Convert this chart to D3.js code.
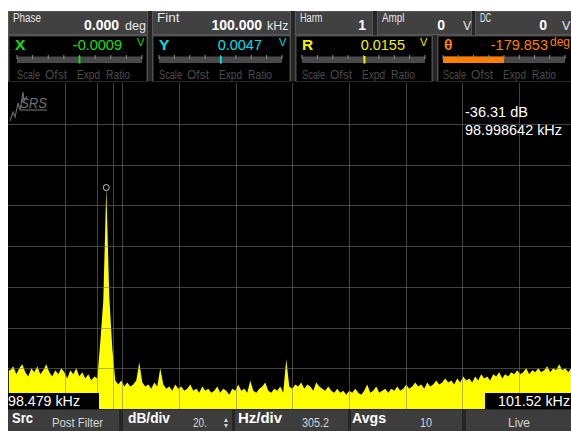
<!DOCTYPE html>
<html>
<head>
<meta charset="utf-8">
<script src="https://cdn.jsdelivr.net/npm/d3@7"></script>
<style>
  html, body { margin: 0; padding: 0; background: #fff; }
  svg { display: block; font-family: "Liberation Sans", Arial, sans-serif; }
</style>
</head>
<body>
<svg id="chart" width="571" height="431"></svg>
<script>
// ---- Settings row ----
const setLabels = ["Phase", "Fint", "Harm", "Ampl", "DC"];
const setValues = ["0.000", "100.000", "1", "0", "0"];
const setUnits  = ["deg", "kHz", "", "V", "V"];

// ---- Channel readouts ----
const chNames  = ["X", "Y", "R", "\u03b8"];
const chValues = [-0.0009, 0.0047, 0.0155, -179.853];
const chText   = ["-0.0009", "0.0047", "0.0155", "-179.853"];
const chUnits  = ["V", "V", "V", "deg"];
const chRanges = [[-1, 1], [-1, 1], [-1, 1], [-180, 180]];
const subLabels = ["Scale", "Ofst", "Expd", "Ratio"];

// ---- Spectrum ----
const spanHz = [98474, 101526];       // display span
const hzPerDiv = 305.2;
const dbPerDiv = 20;
const dbRange = [-145, 15];
const binStartHz = 98474;
const binWidthHz = 16.148;
const spectrumDb = [
  -126, -124, -128, -125, -123, -127, -129, -125, -127, -124,
  -128, -126, -123, -127, -129, -126, -128, -125, -127, -130,
  -126, -128, -125, -129, -127, -130, -128, -131, -129, -130,
  -112, -92, -36.31, -90, -115, -131, -133, -131, -134, -132,
  -134, -133, -131, -122, -132, -134, -133, -135, -132, -134,
  -125, -133, -135, -134, -136, -133, -135, -134, -136, -135,
  -133, -136, -135, -137, -134, -136, -135, -137, -136, -134,
  -137, -135, -136, -138, -135, -136, -133, -136, -135, -137,
  -131, -136, -137, -135, -134, -132, -136, -137, -135, -136,
  -134, -137, -120.5, -134, -135, -133, -134, -132, -135, -133,
  -134, -136, -132, -134, -135, -136, -134, -136, -137, -135,
  -137, -136, -138, -136, -137, -135, -137, -138, -136, -133,
  -137, -136, -134, -137, -136, -135, -137, -135, -136, -134,
  -136, -135, -133, -135, -134, -132, -134, -133, -135, -132,
  -134, -133, -131, -133, -132, -130, -132, -131, -133, -130,
  -132, -129, -131, -130, -132, -129, -131, -128, -130, -129,
  -131, -128, -129, -127, -130, -128, -129, -127, -128, -126,
  -128, -127, -125, -128, -126, -127, -125, -127, -126, -124,
  -127, -125, -126, -123, -126, -125, -127, -125, -126
];
const markerHz = 98998.642;
const markerDb = -36.31;
const markerText = ["-36.31 dB", "98.998642 kHz"];
const cursorHz = [98947, 99033];
const edgeLabels = ["98.479 kHz", "101.52 kHz"];

// ---- Bottom soft keys ----
const keyLabels = ["Src", "dB/div", "Hz/div", "Avgs", ""];
const keyValues = ["Post Filter", "20.", "305.2", "10", "Live"];

// =====================================================
const W = 571, H = 431;
const svg = d3.select("#chart");
svg.append("rect").attr("width", W).attr("height", H).attr("fill", "#fff");
svg.append("rect").attr("x", 8).attr("y", 11).attr("width", 568).attr("height", 420).attr("fill", "#000");

const plot = { l: 8.8, r: 575.7, t: 83, b: 409 };
const x = d3.scaleLinear().domain(spanHz).range([plot.l, plot.r]);
const y = d3.scaleLinear().domain(dbRange).range([plot.b, plot.t]);

const defs = svg.append("defs");
defs.append("clipPath").attr("id", "plotClip")
  .append("rect").attr("x", 8).attr("y", plot.t).attr("width", 563).attr("height", plot.b - plot.t);

// ---- Spectrum trace ----
const pts = spectrumDb.map((db, i) => ({ f: binStartHz + (i + 0.5) * binWidthHz, db }));
pts.unshift({ f: spanHz[0], db: spectrumDb[0] });
const area = d3.area()
  .x(d => x(d.f))
  .y0(y(dbRange[0]))
  .y1(d => y(d.db))
  .curve(d3.curveLinear);

const pg = svg.append("g").attr("clip-path", "url(#plotClip)");
pg.append("path").datum(pts).attr("d", area).attr("fill", "#ffff00");

// ---- Grid (drawn over the trace) ----
const vTicks = d3.range(1, 10).map(k => spanHz[0] + k * hzPerDiv);
const hTicks = d3.range(1, 8).map(k => dbRange[0] + k * dbPerDiv);
const gridColor = "rgba(120,120,120,0.55)";
pg.selectAll(".vg").data(vTicks).join("line")
  .attr("x1", d => Math.round(x(d)) + 0.5).attr("x2", d => Math.round(x(d)) + 0.5)
  .attr("y1", plot.t).attr("y2", plot.b)
  .attr("stroke", gridColor).attr("stroke-width", 1);
pg.selectAll(".hg").data(hTicks).join("line")
  .attr("x1", 8).attr("x2", 576)
  .attr("y1", d => Math.round(y(d)) + 0.5).attr("y2", d => Math.round(y(d)) + 0.5)
  .attr("stroke", gridColor).attr("stroke-width", 1);
pg.selectAll(".cur").data(cursorHz).join("line")
  .attr("x1", d => Math.round(x(d)) + 0.5).attr("x2", d => Math.round(x(d)) + 0.5)
  .attr("y1", plot.t).attr("y2", plot.b)
  .attr("stroke", gridColor).attr("stroke-width", 1);

// ---- Marker ----
pg.append("circle")
  .attr("cx", x(markerHz)).attr("cy", y(markerDb)).attr("r", 3)
  .attr("fill", "none").attr("stroke", "#c8c8c8").attr("stroke-width", 1);
svg.selectAll(".mk").data(markerText).join("text")
  .attr("x", 465).attr("y", (d, i) => 117 + i * 18)
  .attr("font-size", 14.5).attr("fill", "#fff")
  .attr("textLength", (d, i) => i === 0 ? 63 : 97).attr("lengthAdjust", "spacingAndGlyphs")
  .text(d => d);

// ---- SRS logo ----
const logo = svg.append("g").attr("fill", "none").attr("stroke", "#707070").attr("stroke-width", 1.1);
logo.append("path").attr("d", "M10,121 L13,112 L15,117 L18,103 L20,110 L23,92 L24,101 L27,96");
logo.append("line").attr("x1", 20).attr("x2", 47).attr("y1", 110).attr("y2", 110);
svg.append("text").attr("x", 20).attr("y", 107.5).attr("font-size", 15.5)
  .attr("font-style", "italic").attr("fill", "#707070")
  .attr("textLength", 27).attr("lengthAdjust", "spacingAndGlyphs").text("SRS");

// ---- Edge frequency labels ----
const edgeBoxes = [[8, 99], [485, 576]];
const edgeX = [8, 498];
edgeLabels.forEach((t, i) => {
  svg.append("rect").attr("x", edgeBoxes[i][0]).attr("y", 393)
    .attr("width", edgeBoxes[i][1] - edgeBoxes[i][0]).attr("height", 16).attr("fill", "#000");
  svg.append("text").attr("x", edgeX[i]).attr("y", 406).attr("font-size", 14).attr("fill", "#fff")
    .attr("textLength", 72).attr("lengthAdjust", "spacingAndGlyphs").text(t);
});

// ---- Header ----
svg.append("rect").attr("x", 8).attr("y", 11).attr("width", 568).attr("height", 71).attr("fill", "#262626");

const row1 = [[8, 148], [152, 291], [295, 373], [377, 472], [475, 576]];
const row1ValEnd = [119, 262, 366, 445, 547];
const row1UnitX = [125, 267, 0, 463, 562];
setLabels.forEach((lab, i) => {
  const [a, b] = row1[i];
  svg.append("rect").attr("x", a + 0.5).attr("y", 11.5).attr("width", b - a - 1).attr("height", 23)
    .attr("fill", "#414141").attr("stroke", "#595959");
  svg.append("text").attr("x", a + 5).attr("y", 22).attr("font-size", 12).attr("fill", "#e6e6e6")
    .attr("textLength", lab.length * 5.6).attr("lengthAdjust", "spacingAndGlyphs").text(lab);
  svg.append("text").attr("x", row1ValEnd[i]).attr("y", 30).attr("font-size", 14)
    .attr("font-weight", "bold").attr("text-anchor", "end").attr("fill", "#fff").text(setValues[i]);
  if (setUnits[i]) {
    svg.append("text").attr("x", row1UnitX[i]).attr("y", 30).attr("font-size", 12.5).attr("fill", "#e6e6e6")
      .text(setUnits[i]);
  }
});

const row2 = [[8, 148], [152, 291], [295, 433], [437, 576]];
const chColors = ["#10e010", "#00e0e6", "#f2f200", "#ff8000"];
const chValEnd = [122, 262, 405, 548];
const chUnitX = [137, 279, 420, 550];
const bars = [[17, 142], [159, 282], [302, 425], [443, 565]];
chNames.forEach((nm, i) => {
  const [a, b] = row2[i];
  const c = chColors[i];
  svg.append("rect").attr("x", a + 0.75).attr("y", 35.75).attr("width", b - a - 1.5).attr("height", 46)
    .attr("fill", "#000").attr("stroke", "#4e4e4e").attr("stroke-width", 1.5);
  svg.append("text").attr("x", a + 7).attr("y", 50).attr("font-size", 15.5).attr("font-weight", "bold")
    .attr("fill", c).text(nm);
  svg.append("text").attr("x", chValEnd[i]).attr("y", 50).attr("font-size", 14.5)
    .attr("text-anchor", "end").attr("fill", c).text(chText[i]);
  svg.append("text").attr("x", chUnitX[i]).attr("y", 46).attr("font-size", chUnits[i] === "deg" ? 12 : 11)
    .attr("fill", c).text(chUnits[i]);

  // meter bar
  const [b0, b1] = bars[i];
  const s = d3.scaleLinear().domain(chRanges[i]).range([b0, b1]).clamp(true);
  svg.append("rect").attr("x", b0).attr("y", 56.5).attr("width", b1 - b0).attr("height", 6.5).attr("fill", "#4a4a4a");
  if (i === 3) {
    const v = s(chValues[i]), m = s(0);
    svg.append("rect").attr("x", Math.min(v, m)).attr("y", 56.5).attr("width", Math.abs(m - v)).attr("height", 6.5)
      .attr("fill", c);
  }
  svg.selectAll(null).data(d3.range(9)).join("line")
    .attr("x1", k => b0 + k * (b1 - b0) / 8).attr("x2", k => b0 + k * (b1 - b0) / 8)
    .attr("y1", 55).attr("y2", 59).attr("stroke", "#8a8a8a").attr("stroke-width", 1);
  if (i !== 3) {
    svg.append("line").attr("x1", s(chValues[i])).attr("x2", s(chValues[i]))
      .attr("y1", 56).attr("y2", 63.5).attr("stroke", c).attr("stroke-width", 2);
  }
  const subOff = [0, 28, 60, 89], subW = [23, 22, 23, 24];
  subLabels.forEach((t, k) => {
    svg.append("text").attr("x", b0 + subOff[k]).attr("y", 79).attr("font-size", 12)
      .attr("fill", "#4c4c4c").attr("textLength", subW[k]).attr("lengthAdjust", "spacingAndGlyphs").text(t);
  });
});
// plot top edge covers the lower part of the meter captions
svg.append("rect").attr("x", 8).attr("y", 81.5).attr("width", 568).attr("height", 1.5).attr("fill", "#000");

// ---- Bottom soft keys ----
svg.append("rect").attr("x", 8).attr("y", 409).attr("width", 568).attr("height", 22).attr("fill", "#262626");
const keys = [[8, 119], [123, 232], [235, 348], [351, 462], [466, 576]];
const keyLabX = [12, 128, 238, 352, 0];
const keyLabW = [21, 42, 44, 34, 0];
const keyValX = [52, 193, 302, 420, 508];
const keyValW = [51, 14, 27, 12, 22];
keys.forEach(([a, b], i) => {
  svg.append("rect").attr("x", a).attr("y", 410).attr("width", b - a).attr("height", 21).attr("fill", "#3d3d3d");
  if (keyLabels[i]) {
    svg.append("text").attr("x", keyLabX[i]).attr("y", 423).attr("font-size", 14).attr("font-weight", "bold")
      .attr("fill", "#fff").attr("textLength", keyLabW[i]).attr("lengthAdjust", "spacingAndGlyphs").text(keyLabels[i]);
  }
  svg.append("text").attr("x", keyValX[i]).attr("y", 427).attr("font-size", 12.5)
    .attr("fill", "#d6d6d6").attr("textLength", keyValW[i]).attr("lengthAdjust", "spacingAndGlyphs").text(keyValues[i]);
});
// up/down arrows beside dB/div value
svg.append("path").attr("d", "M224,422 L226,418 L228,422 Z M224,424 L226,428 L228,424 Z").attr("fill", "#d6d6d6");
</script>
</body>
</html>
